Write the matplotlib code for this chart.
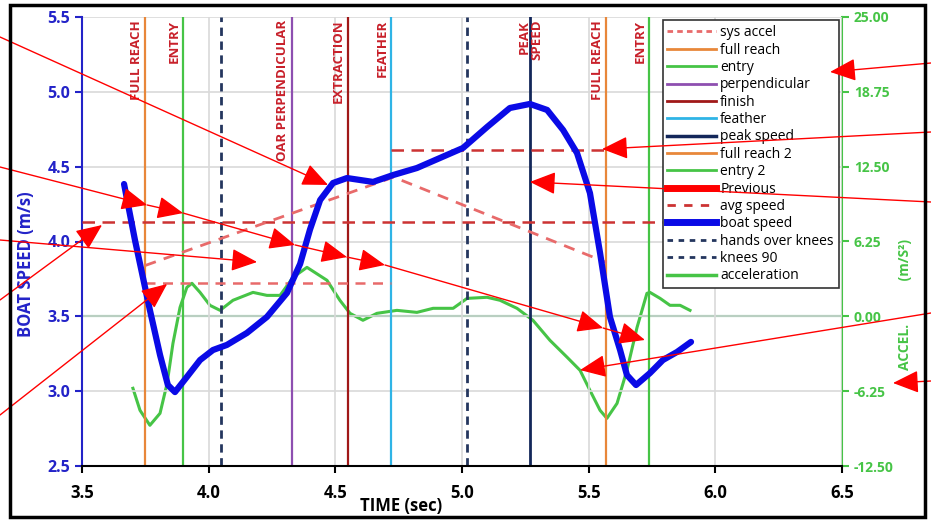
import numpy as np
import matplotlib.pyplot as plt
from matplotlib.lines import Line2D
from matplotlib.patches import Rectangle

plt.rcParams['font.family'] = ['Open Sans', 'DejaVu Sans']

# boat speed trace (sec, m/s)
speed_t = [3.666, 3.709, 3.768, 3.808, 3.839, 3.867, 3.914, 3.966, 4.017, 4.072,
           4.151, 4.230, 4.309, 4.361, 4.400, 4.440, 4.491, 4.546, 4.649, 4.728,
           4.822, 4.913, 5.004, 5.099, 5.189, 5.268, 5.336, 5.399, 5.454, 5.505,
           5.545, 5.584, 5.624, 5.651, 5.687, 5.742, 5.793, 5.849, 5.904]
speed_v = [4.384, 4.010, 3.542, 3.242, 3.041, 2.994, 3.095, 3.208, 3.275, 3.309,
           3.389, 3.496, 3.656, 3.850, 4.080, 4.277, 4.391, 4.424, 4.398, 4.444,
           4.491, 4.558, 4.625, 4.765, 4.892, 4.919, 4.879, 4.745, 4.591, 4.324,
           3.923, 3.496, 3.275, 3.108, 3.041, 3.121, 3.208, 3.262, 3.329]

# acceleration trace (sec, m/s^2)
acc_t = [3.701, 3.729, 3.768, 3.808, 3.836, 3.859, 3.887, 3.914, 3.934, 3.966,
         4.005, 4.045, 4.096, 4.175, 4.230, 4.282, 4.333, 4.388, 4.467, 4.518,
         4.558, 4.609, 4.664, 4.743, 4.822, 4.886, 4.965, 5.020, 5.099, 5.150,
         5.217, 5.280, 5.347, 5.415, 5.466, 5.505, 5.545, 5.572, 5.612, 5.651,
         5.691, 5.730, 5.742, 5.782, 5.821, 5.861, 5.900]
acc_a = [-6.01, -7.85, -9.10, -8.10, -5.60, -2.26, 0.75, 2.42, 2.76, 2.00,
         0.92, 0.50, 1.34, 2.00, 1.75, 1.75, 3.26, 4.09, 3.01, 1.34,
         0.25, -0.33, 0.25, 0.50, 0.33, 0.67, 0.67, 1.50, 1.59, 1.34,
         0.67, -0.33, -2.00, -3.42, -4.51, -6.18, -7.85, -8.52, -7.27, -4.51,
         -0.92, 1.92, 2.00, 1.50, 0.92, 0.92, 0.50]

# stroke events
event_names = ['full reach', 'entry', 'perpendicular', 'finish', 'feather',
               'peak speed', 'full reach 2', 'entry 2']
event_t = [3.75, 3.90, 4.33, 4.55, 4.72, 5.27, 5.57, 5.74]
event_labels = ['FULL REACH', 'ENTRY', 'OAR PERPENDICULAR', 'EXTRACTION', 'FEATHER',
                'PEAK\nSPEED', 'FULL REACH', 'ENTRY']
event_colors = ['#e8873a', '#46c446', '#8e4fb0', '#a01818', '#2fb4e6',
                '#13275a', '#e8873a', '#46c446']

hands_over_knees_t = 4.05
knees90_t = 5.02
avg_speed = 4.13

# system acceleration guide lines
sys_accel_t = [3.75, 4.73, 5.57]
sys_accel_v = [3.84, 4.43, 3.86]
drive_mean_t = [3.75, 4.72]
drive_mean_v = 3.72
recovery_mean_t = [4.72, 5.57]
recovery_mean_v = 4.61

# red pointer arrows: tail (figure px) -> tip (data) ; chain tails in data
arrows_out = [((0, 37), (4.471, 4.378)), ((0, 167), (3.757, 4.244)),
              ((0, 240), (4.191, 3.863)), ((0, 300), (3.579, 4.110)),
              ((0, 415), (3.836, 3.716)), ((931, 63), (6.453, 5.133)),
              ((931, 132), (5.553, 4.618)), ((931, 202), (5.268, 4.398)),
              ((931, 313), (5.466, 3.141))]
arrow_chain = [(3.757, 4.244), (3.899, 4.190), (4.341, 3.977), (4.546, 3.896),
               (4.696, 3.843), (5.557, 3.422), (5.722, 3.342)]

W, H = 931, 523
fig = plt.figure(figsize=(W / 100, H / 100), dpi=100)
ax = fig.add_axes([82 / W, 57 / H, 760 / W, 449 / H])
ax2 = ax.twinx()

blue = '#2323c8'
green = '#46c446'
red_txt = '#c8202a'

ax.set_xlim(3.5, 6.5)
ax.set_ylim(2.5, 5.5)
ax2.set_ylim(-12.5, 25)
ax.set_xticks(np.arange(3.5, 6.51, 0.5))
ax.set_yticks(np.arange(2.5, 5.51, 0.5))
ax2.set_yticks(np.arange(-12.5, 25.01, 6.25))
ax2.set_yticklabels([f'{v:.2f}' for v in np.arange(-12.5, 25.01, 6.25)])
ax.grid(True, color='#d9d9d9', lw=1.2)
ax.set_axisbelow(True)

ax.spines['top'].set_visible(False)
ax2.spines['top'].set_visible(False)
ax.spines['right'].set_visible(False)
ax2.spines['left'].set_visible(False)
ax2.spines['bottom'].set_visible(False)
ax.spines['left'].set_color(blue)
ax.spines['left'].set_linewidth(1.5)
ax.spines['bottom'].set_linewidth(1.5)
ax2.spines['right'].set_color(green)
ax2.spines['right'].set_linewidth(1.5)

ax.tick_params(axis='y', colors=blue, labelsize=11.5, width=1.5, length=5)
ax.tick_params(axis='x', colors='black', labelsize=12, width=1.5, length=5, pad=8)
ax2.tick_params(axis='y', colors=green, labelsize=10, width=1.5, length=5)
for lab in ax.get_xticklabels() + ax.get_yticklabels() + ax2.get_yticklabels():
    lab.set_fontweight('bold')

ax.set_ylabel('BOAT SPEED (m/s)', color=blue, fontsize=12, fontweight='bold')
ax.yaxis.set_label_coords(-0.062, 0.45)
ax.set_xlabel('TIME (sec)', fontsize=12, fontweight='bold')
ax.xaxis.set_label_coords(0.42, -0.07)
fig.text(905 / W, 1 - 305 / H, 'ACCEL.            (m/S²)', color=green, fontsize=10,
         fontweight='bold', rotation=90, ha='center', va='center')

# event lines
for name, t, lab, c in zip(event_names, event_t, event_labels, event_colors):
    lw = 2.0 if name == 'peak speed' else 1.6
    ax.axvline(t, color=c, lw=lw, zorder=2)
    if name == 'peak speed':
        ax.annotate(lab, (t, 5.5), xytext=(0, -2), textcoords='offset points',
                    rotation=90, ha='center', va='top', multialignment='right',
                    color=red_txt, fontsize=9.5, fontweight='bold', linespacing=1.0)
    else:
        ax.annotate(lab, (t, 5.5), xytext=(-2, -2), textcoords='offset points',
                    rotation=90, ha='right', va='top',
                    color=red_txt, fontsize=9.5, fontweight='bold')
ax.axvline(hands_over_knees_t, color='#24365e', lw=2, ls=(0, (3, 2)), zorder=2)
ax.axvline(knees90_t, color='#24365e', lw=2, ls=(0, (3, 2)), zorder=2)

# zero acceleration and average speed
ax2.axhline(0, color='#1e9e4c', lw=1.5, zorder=2)
ax.axhline(avg_speed, color='#cc3333', lw=1.8, ls=(0, (5, 3)), zorder=3)

ax.plot(sys_accel_t, sys_accel_v, color='#e86a6a', lw=2, ls=(0, (4, 3)), zorder=3)
ax.plot(drive_mean_t, [drive_mean_v] * 2, color='#e86a6a', lw=1.8, ls=(0, (4, 3)), zorder=3)
ax.plot(recovery_mean_t, [recovery_mean_v] * 2, color='#cc3333', lw=1.8, ls=(0, (5, 3)), zorder=3)

ax2.plot(acc_t, acc_a, color=green, lw=2.2, zorder=4)
ax.plot(speed_t, speed_v, color='#0a0ae6', lw=4.5, solid_capstyle='round',
        solid_joinstyle='round', zorder=6)
ax.set_zorder(ax2.get_zorder() + 1)
ax.patch.set_visible(False)

# legend
leg_items = [
    ('sys accel', dict(color='#e86a6a', lw=2, ls=(0, (2, 1.5)))),
    ('full reach', dict(color='#e8873a', lw=2)),
    ('entry', dict(color=green, lw=2)),
    ('perpendicular', dict(color='#8e4fb0', lw=2)),
    ('finish', dict(color='#a01818', lw=2)),
    ('feather', dict(color='#2fb4e6', lw=2)),
    ('peak speed', dict(color='#13275a', lw=2.5)),
    ('full reach 2', dict(color='#e8873a', lw=2)),
    ('entry 2', dict(color=green, lw=2)),
    ('Previous', dict(color='#ff0000', lw=5)),
    ('avg speed', dict(color='#cc3333', lw=2, ls=(0, (3, 3)))),
    ('boat speed', dict(color='#0a0ae6', lw=5)),
    ('hands over knees', dict(color='#24365e', lw=2, ls=(0, (2, 2)))),
    ('knees 90', dict(color='#24365e', lw=2, ls=(0, (2, 2)))),
    ('acceleration', dict(color=green, lw=2.5)),
]
handles = [Line2D([], [], **kw) for _, kw in leg_items]
leg = ax.legend(handles, [n for n, _ in leg_items], loc='upper right', fontsize=10,
                frameon=True, fancybox=False, edgecolor='#333333', framealpha=1,
                handlelength=3.5, labelspacing=0.17, borderaxespad=0.25,
                borderpad=0.35, handletextpad=0.3)
leg.get_frame().set_linewidth(1.2)
leg.set_zorder(7)

# red pointer arrows
akw = dict(arrowstyle='-|>,head_length=0.8,head_width=0.35', color='#ff0000',
           lw=1.0, mutation_scale=20, shrinkA=0, shrinkB=0)
for tail, tip in arrows_out:
    ax.annotate('', xy=tip, xycoords='data',
                xytext=(tail[0] / W, 1 - tail[1] / H), textcoords='figure fraction',
                arrowprops=akw, annotation_clip=False, zorder=10)
for a, b in zip(arrow_chain[:-1], arrow_chain[1:]):
    ax.annotate('', xy=b, xytext=a, arrowprops=akw, annotation_clip=False, zorder=10)
ax.annotate('', xy=(893 / W, 1 - 383 / H), xycoords='figure fraction',
            xytext=(931 / W, 1 - 381 / H), textcoords='figure fraction',
            arrowprops=akw, annotation_clip=False, zorder=10)

# outer frame
fig.patches.append(Rectangle((10 / W, 6 / H), 915 / W, 512 / H, transform=fig.transFigure,
                             fill=False, ec='black', lw=2.5))

fig.savefig('out.png', dpi=100)
